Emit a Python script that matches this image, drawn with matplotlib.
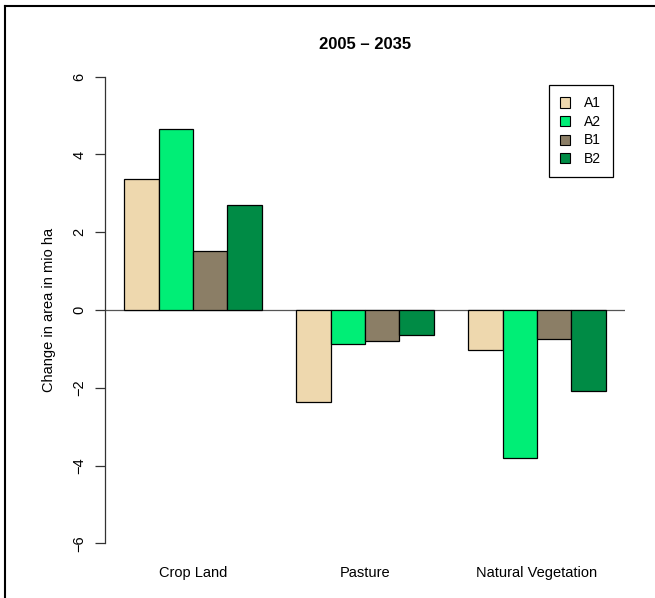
# Bar chart: change in land area 2005 - 2035, by scenario
import numpy as np
import matplotlib.pyplot as plt
from matplotlib.patches import Patch
from matplotlib.lines import Line2D

plt.rcParams['font.family'] = ['Liberation Sans', 'DejaVu Sans']

# data
categories = ['Crop Land', 'Pasture', 'Natural Vegetation']
scenarios = ['A1', 'A2', 'B1', 'B2']
a1 = [3.38, -2.36, -1.03]
a2 = [4.66, -0.87, -3.80]
b1 = [1.51, -0.79, -0.74]
b2 = [2.71, -0.64, -2.08]
colors = ['#EED8AE', '#00EE76', '#8B7E66', '#008B45']  # wheat2, springgreen2, wheat4, springgreen4
yticks = [-6, -4, -2, 0, 2, 4, 6]

series = [a1, a2, b1, b2]

fig = plt.figure(figsize=(6.55, 5.98), dpi=100)
ax = fig.add_axes([105/655, 1 - 562/598, 520/655, 504/598])

# R barplot(beside=TRUE) layout: one empty bar before each group
group_left = np.arange(len(categories)) * 5 + 1
for i, vals in enumerate(series):
    ax.bar(group_left + i, vals, width=1, align='edge', color=colors[i],
           edgecolor='black', linewidth=0.9, zorder=2)

ax.axhline(0, color='#555555', linewidth=0.9, zorder=1)

ax.set_xlim(1 - 0.56, 15 + 0.56)
ax.set_ylim(-6.48, 6.48)

for s in ['top', 'right', 'bottom']:
    ax.spines[s].set_visible(False)
ax.spines['left'].set_bounds(-6, 6)
ax.spines['left'].set_color('#333333')
ax.spines['left'].set_linewidth(0.9)

ax.set_yticks(yticks)
ax.set_yticklabels([str(t).replace('-', '\u2212') for t in yticks],
                   rotation=90, va='center', fontsize=10.5)
ax.tick_params(axis='y', length=7, width=0.9, color='#333333', pad=6.5)

ax.set_xticks(group_left + 2)
ax.set_xticklabels(categories, fontsize=10.5)
ax.tick_params(axis='x', length=0, pad=3)

ax.set_ylabel('Change in area in mio ha', fontsize=10.5)
ax.yaxis.set_label_coords(-0.094, 0.5)

ax.set_title('2005 \u2013 2035', fontsize=12, fontweight='bold', pad=6.5)

handles = [Patch(facecolor=c, edgecolor='black', linewidth=0.8) for c in colors]
leg = ax.legend(handles, scenarios, loc='upper right',
                bbox_to_anchor=(0.976, 0.946), borderaxespad=0,
                fancybox=False, framealpha=1, edgecolor='black',
                fontsize=10, handlelength=0.75, handleheight=0.75,
                handletextpad=1.0, labelspacing=0.33, borderpad=0.8)
leg.get_frame().set_linewidth(0.9)

# outer frame (left and top only visible in the crop)
fig.add_artist(Line2D([4.5/655, 1], [1 - 6/598, 1 - 6/598], color='black', linewidth=1.5))
fig.add_artist(Line2D([4.5/655, 4.5/655], [0, 1 - 6/598], color='black', linewidth=1.5))

fig.savefig('out.png', dpi=100)
